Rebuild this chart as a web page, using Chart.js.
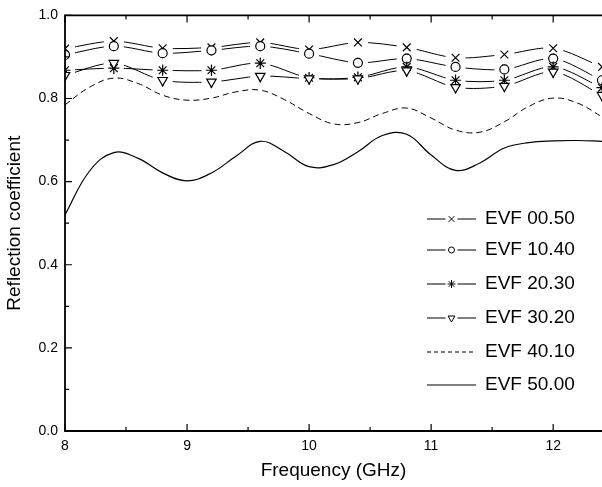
<!DOCTYPE html>
<html>
<head>
<meta charset="utf-8">
<script src="https://cdn.jsdelivr.net/npm/chart.js@4.4.1/dist/chart.umd.min.js"></script>
<style>
  html, body { margin: 0; padding: 0; background: #fff; }
  canvas { display: block; }
</style>
</head>
<body>
<canvas id="grafica" width="602" height="487"></canvas>
<script>
// frecuencias (GHz) de las series con marcas y de las curvas lisas
const frecMarcas = [8.0, 8.4, 8.8, 9.2, 9.6, 10.0, 10.4, 10.8, 11.2, 11.6, 12.0, 12.4];
const frecCurvas = [8.0, 8.2, 8.4, 8.6, 8.8, 9.0, 9.2, 9.4, 9.6, 9.8, 10.0, 10.2,
                    10.4, 10.6, 10.8, 11.0, 11.2, 11.4, 11.6, 11.8, 12.0, 12.2, 12.4];

const evf0050 = [0.920, 0.938, 0.921, 0.923, 0.935, 0.918, 0.935, 0.923, 0.898, 0.906, 0.921, 0.876];
const evf1040 = [0.905, 0.926, 0.909, 0.916, 0.926, 0.908, 0.886, 0.896, 0.876, 0.870, 0.896, 0.844];
const evf2030 = [0.868, 0.873, 0.868, 0.868, 0.885, 0.850, 0.851, 0.876, 0.844, 0.844, 0.876, 0.826];
const evf3020 = [0.856, 0.885, 0.844, 0.840, 0.854, 0.848, 0.848, 0.867, 0.827, 0.830, 0.864, 0.808];
const evf4010 = [0.785, 0.827, 0.849, 0.836, 0.808, 0.796, 0.801, 0.816, 0.820, 0.797, 0.764, 0.739,
                 0.742, 0.764, 0.777, 0.753, 0.724, 0.719, 0.744, 0.781, 0.801, 0.789, 0.756];
const evf5000 = [0.520, 0.625, 0.670, 0.656, 0.621, 0.602, 0.621, 0.661, 0.697, 0.672, 0.636, 0.641,
                 0.672, 0.711, 0.714, 0.664, 0.627, 0.645, 0.681, 0.694, 0.698, 0.699, 0.697];

const etiquetas = ["EVF 00.50", "EVF 10.40", "EVF 20.30", "EVF 30.20", "EVF 40.10", "EVF 50.00"];

const ticksX = [8, 9, 10, 11, 12];
const ticksXMenores = [8.5, 9.5, 10.5, 11.5];
const ticksY = [0, 0.2, 0.4, 0.6, 0.8, 1.0];
const ticksYMenores = [0.1, 0.3, 0.5, 0.7, 0.9];

const fuente = "'Liberation Sans', Arial, Helvetica, sans-serif";
Chart.defaults.font.family = fuente;
Chart.defaults.color = "#000";

function puntos(xs, ys) {
  return xs.map((x, i) => ({ x: x, y: ys[i] }));
}

function serieMarcas(label, ys, estilo, radio, rotacion) {
  return {
    label: label,
    data: puntos(frecMarcas, ys),
    borderColor: "#000",
    borderWidth: 1,
    tension: 0.3,
    pointStyle: estilo,
    pointRadius: radio,
    pointRotation: rotacion || 0,
    pointBorderColor: "#000",
    pointBackgroundColor: "#fff",
    pointBorderWidth: 1.2,
    fill: false
  };
}

const series = [
  serieMarcas(etiquetas[0], evf0050, "crossRot", 5.5),
  serieMarcas(etiquetas[1], evf1040, "circle", 4.5),
  serieMarcas(etiquetas[2], evf2030, "star", 5.5),
  serieMarcas(etiquetas[3], evf3020, "triangle", 5.5, 180),
  {
    label: etiquetas[4],
    data: puntos(frecCurvas, evf4010),
    borderColor: "#000",
    borderWidth: 1,
    borderDash: [6, 4],
    tension: 0.4,
    pointRadius: 0,
    fill: false
  },
  {
    label: etiquetas[5],
    data: puntos(frecCurvas, evf5000),
    borderColor: "#000",
    borderWidth: 1.2,
    tension: 0.4,
    pointRadius: 0,
    fill: false
  }
];

// marco, marcas de escala hacia dentro, huecos en las lineas y leyenda
const marco = {
  id: "marco",
  afterDatasetsDraw(chart) {
    const ctx = chart.ctx;
    const area = chart.chartArea;
    const sx = chart.scales.x;
    const sy = chart.scales.y;

    // huecos alrededor de las marcas
    ctx.save();
    ctx.beginPath();
    ctx.rect(area.left, area.top, area.right - area.left, area.bottom - area.top);
    ctx.clip();
    ctx.fillStyle = "#fff";
    for (let i = 0; i < 4; i++) {
      chart.getDatasetMeta(i).data.forEach(p => {
        ctx.fillRect(p.x - 10, p.y - 5, 20, 10);
      });
    }
    for (let i = 0; i < 4; i++) {
      chart.getDatasetMeta(i).data.forEach(p => p.draw(ctx, area));
    }
    ctx.restore();

    // marco
    ctx.save();
    ctx.strokeStyle = "#000";
    ctx.lineWidth = 1.8;
    ctx.beginPath();
    ctx.moveTo(area.right + 2, area.top);
    ctx.lineTo(area.left, area.top);
    ctx.lineTo(area.left, area.bottom);
    ctx.lineTo(area.right + 2, area.bottom);
    ctx.stroke();

    ctx.lineWidth = 1.2;
    ctx.beginPath();
    const tickX = (v, largo) => {
      const x = sx.getPixelForValue(v);
      ctx.moveTo(x, area.bottom);
      ctx.lineTo(x, area.bottom - largo);
      ctx.moveTo(x, area.top);
      ctx.lineTo(x, area.top + largo);
    };
    const tickY = (v, largo) => {
      const y = sy.getPixelForValue(v);
      ctx.moveTo(area.left, y);
      ctx.lineTo(area.left + largo, y);
    };
    ticksX.forEach(v => tickX(v, 7));
    ticksXMenores.forEach(v => tickX(v, 4));
    ticksY.forEach(v => tickY(v, 7));
    ticksYMenores.forEach(v => tickY(v, 4));
    ctx.stroke();

    // leyenda
    const filas = [219, 250, 284, 318, 352, 385];
    const x1 = 427, x2 = 476, xm = (x1 + x2) / 2;
    ctx.font = "19px " + fuente;
    ctx.textBaseline = "middle";
    ctx.textAlign = "left";
    series.forEach((s, i) => {
      const y = filas[i];
      ctx.strokeStyle = "#000";
      ctx.lineWidth = 1;
      ctx.setLineDash(s.borderDash ? [4, 3] : []);
      ctx.beginPath();
      if (i < 4) {
        ctx.moveTo(x1, y); ctx.lineTo(xm - 6, y);
        ctx.moveTo(xm + 6, y); ctx.lineTo(x2, y);
      } else {
        ctx.moveTo(x1, y); ctx.lineTo(x2, y);
      }
      ctx.stroke();
      ctx.setLineDash([]);
      if (i < 4) {
        ctx.fillStyle = "#fff";
        ctx.lineWidth = 1;
        Chart.helpers.drawPoint(ctx, {
          pointStyle: s.pointStyle,
          rotation: s.pointRotation,
          radius: s.pointRadius - 1.5,
          borderWidth: 1
        }, xm, y);
      }
      ctx.fillStyle = "#000";
      ctx.fillText(s.label, 485, y);
    });
    ctx.restore();
  }
};

new Chart(document.getElementById("grafica"), {
  type: "line",
  data: { datasets: series },
  plugins: [marco],
  options: {
    responsive: false,
    animation: false,
    devicePixelRatio: 1,
    layout: { autoPadding: false, padding: { top: 15, right: 0, bottom: 0, left: 0 } },
    plugins: {
      legend: { display: false },
      tooltip: { enabled: false }
    },
    scales: {
      x: {
        type: "linear",
        min: 8,
        max: 12.4,
        grid: { display: false, drawTicks: false },
        border: { display: false },
        afterBuildTicks: s => { s.ticks = ticksX.map(v => ({ value: v })); },
        afterFit: s => { s.height = 56; },
        ticks: {
          padding: 7,
          font: { size: 14 },
          maxRotation: 0,
          callback: v => String(v)
        },
        title: {
          display: true,
          text: "Frequency (GHz)",
          font: { size: 19 },
          padding: { top: 0, bottom: 5 }
        }
      },
      y: {
        min: 0,
        max: 1,
        grid: { display: false, drawTicks: false },
        border: { display: false },
        afterBuildTicks: s => { s.ticks = ticksY.map(v => ({ value: v })); },
        afterFit: s => { s.width = 65; },
        ticks: {
          padding: 7,
          font: { size: 14 },
          callback: v => v.toFixed(1)
        },
        title: {
          display: true,
          text: "Reflection coefficient",
          font: { size: 19 },
          padding: { top: 3, bottom: 0 }
        }
      }
    }
  }
});
</script>
</body>
</html>
